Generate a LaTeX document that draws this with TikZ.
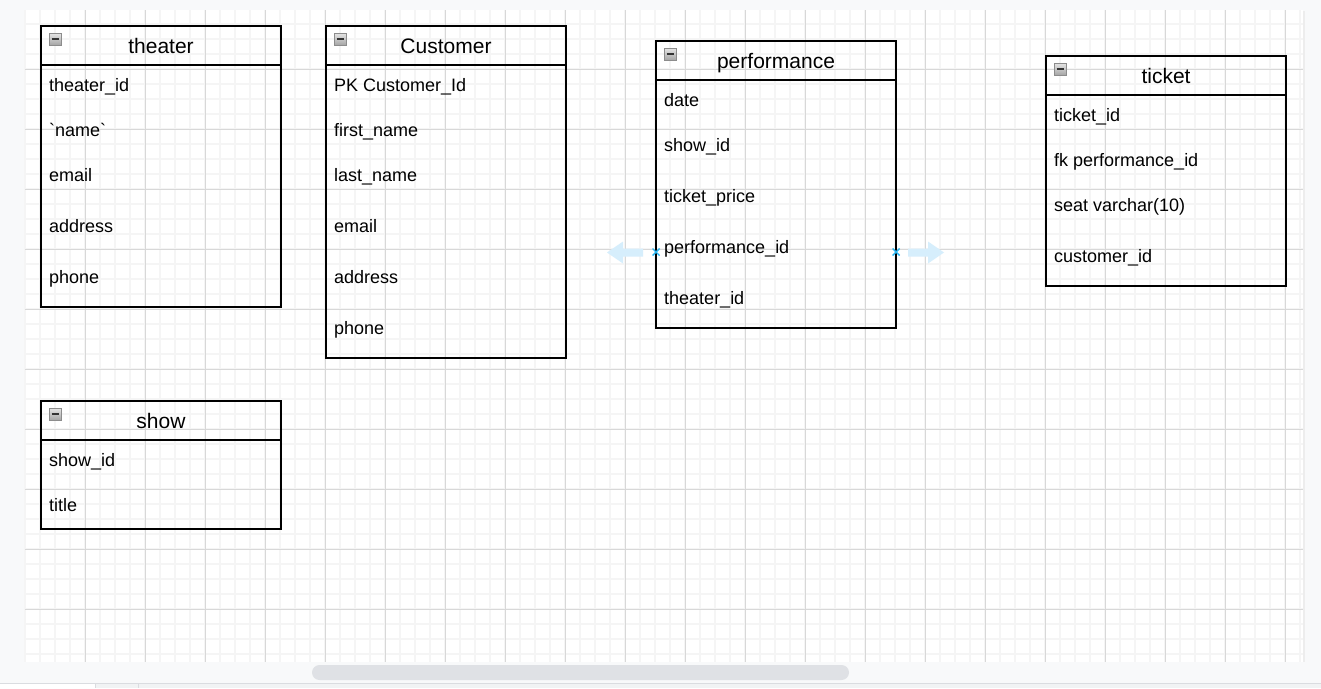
\documentclass[tikz,border=0pt]{standalone}
\usepackage{fontspec}
\newfontfamily\erfont{Liberation Sans}
\usetikzlibrary{positioning,calc}
\definecolor{pagebg}{HTML}{F8F9FA}
\definecolor{gridminor}{HTML}{F5F5F5}
\definecolor{gridmajor}{HTML}{D8D8D8}
\definecolor{scrollc}{HTML}{DFE1E5}
\definecolor{barline}{HTML}{DADCE0}
\definecolor{barbg}{HTML}{F1F3F4}
\definecolor{hoverc}{HTML}{D6EEFC}
\definecolor{markc}{HTML}{29B6F2}

\begin{document}
\begin{tikzpicture}[x=1pt,y=-1pt,
 entity/.style={draw,line width=1.5pt,outer sep=0pt,inner sep=0pt,minimum width=240pt,minimum height=39pt,
  font=\erfont\fontsize{21}{24}\selectfont,text height=15pt,text depth=0pt},
 fields/.style={draw,line width=1.5pt,outer sep=0pt,inner sep=0pt,minimum width=240pt},
 field/.style={anchor=west,inner sep=0pt,font=\erfont\fontsize{18}{20}\selectfont,text height=13pt,text depth=0pt},
 minus/.style={draw=black!45,line width=0.8pt,top color=black!10,bottom color=black!35,minimum size=12pt,inner sep=0pt,
  path picture={\draw[line width=1.6pt,black!80] ($(path picture bounding box.west)+(2.5,0)$) -- ($(path picture bounding box.east)+(-2.5,0)$);}}]
\useasboundingbox (0,0) rectangle (1321,688);
% page and grid
\fill[pagebg] (0,0) rectangle (1321,688);
\fill[black!7] (26,11) rectangle (1305,664);
\fill[white] (25,10) rectangle (1303,662);
\foreach \x in {25,40,...,1300} \draw[gridminor,line width=1.6pt] (\x,10) -- (\x,662);
\foreach \y in {24,39,...,654} \draw[gridminor,line width=1.6pt] (25,\y) -- (1303,\y);
\foreach \x in {85,145,...,1285} \draw[gridmajor,line width=0.8pt] (\x,10) -- (\x,662);
\foreach \y in {69,129,...,609} \draw[gridmajor,line width=0.8pt] (25,\y) -- (1303,\y);
% bottom bar
\fill[pagebg] (0,662) rectangle (1321,683);
\fill[scrollc,rounded corners=7.5pt] (312,665) rectangle (849,680);
\fill[barbg] (0,683) rectangle (1321,688);
\fill[white] (0,684) rectangle (95,688);
\draw[barline] (0,683.5) -- (1321,683.5);
\draw[barline] (95,684) -- (95,688) (138,684) -- (138,688);

% theater
\node[entity] (theater) at (161,45.5) {theater};
\node[fields,minimum height=242pt,below=0pt of theater] (theater-body) {};
\node[minus] (theater-min) at ($(theater.north west)+(14,13)$) {};
\foreach \txt/\y [count=\i] in {theater\_id/85,`name`/130,email/175,address/226,phone/277}
 \node[field] (theater-\i) at (49,\y) {\txt};

% Customer
\node[entity] (customer) at (446,45.5) {Customer};
\node[fields,minimum height=293pt,below=0pt of customer] (customer-body) {};
\node[minus] (customer-min) at ($(customer.north west)+(14,13)$) {};
\foreach \txt/\y [count=\i] in {PK Customer\_Id/85,first\_name/130,last\_name/175,email/226,address/277,phone/328}
 \node[field] (customer-\i) at (334,\y) {\txt};

% performance
\node[entity] (perf) at (776,60.5) {performance};
\node[fields,minimum height=248pt,below=0pt of perf] (perf-body) {};
\node[minus] (perf-min) at ($(perf.north west)+(14,13)$) {};
\foreach \txt/\y [count=\i] in {date/100,show\_id/145,ticket\_price/196,performance\_id/247,theater\_id/298}
 \node[field] (perf-\i) at (664,\y) {\txt};

% ticket
\node[entity] (ticket) at (1166,75.5) {ticket};
\node[fields,minimum height=191pt,below=0pt of ticket] (ticket-body) {};
\node[minus] (ticket-min) at ($(ticket.north west)+(14,13)$) {};
\foreach \txt/\y [count=\i] in {ticket\_id/115,fk performance\_id/160,seat varchar(10)/205,customer\_id/256}
 \node[field] (ticket-\i) at (1054,\y) {\txt};

% show
\node[entity] (show) at (161,420.5) {show};
\node[fields,minimum height=89pt,below=0pt of show] (show-body) {};
\node[minus] (show-min) at ($(show.north west)+(14,13)$) {};
\foreach \txt/\y [count=\i] in {show\_id/460,title/505}
 \node[field] (show-\i) at (49,\y) {\txt};

% hover handles on performance
\coordinate (perf-l) at (656,252);
\coordinate (perf-r) at (896,252);
\fill[hoverc] ($(perf-l)+(-13,-3.5)$) -- ++(-20,0) -- ++(0,-7) -- ++(-16,11) -- ++(16,11) -- ++(0,-7) -- ++(20,0) -- cycle;
\fill[hoverc] ($(perf-r)+(12,-3.5)$) -- ++(20,0) -- ++(0,-7) -- ++(16,11) -- ++(-16,11) -- ++(0,-7) -- ++(-20,0) -- cycle;
\draw[markc,line width=1.4pt] ($(perf-l)+(-3.5,-3.5)$) -- ($(perf-l)+(3.5,3.5)$) ($(perf-l)+(-3.5,3.5)$) -- ($(perf-l)+(3.5,-3.5)$);
\draw[markc,line width=1.4pt] ($(perf-r)+(-3.5,-3.5)$) -- ($(perf-r)+(3.5,3.5)$) ($(perf-r)+(-3.5,3.5)$) -- ($(perf-r)+(3.5,-3.5)$);
\end{tikzpicture}
\end{document}
